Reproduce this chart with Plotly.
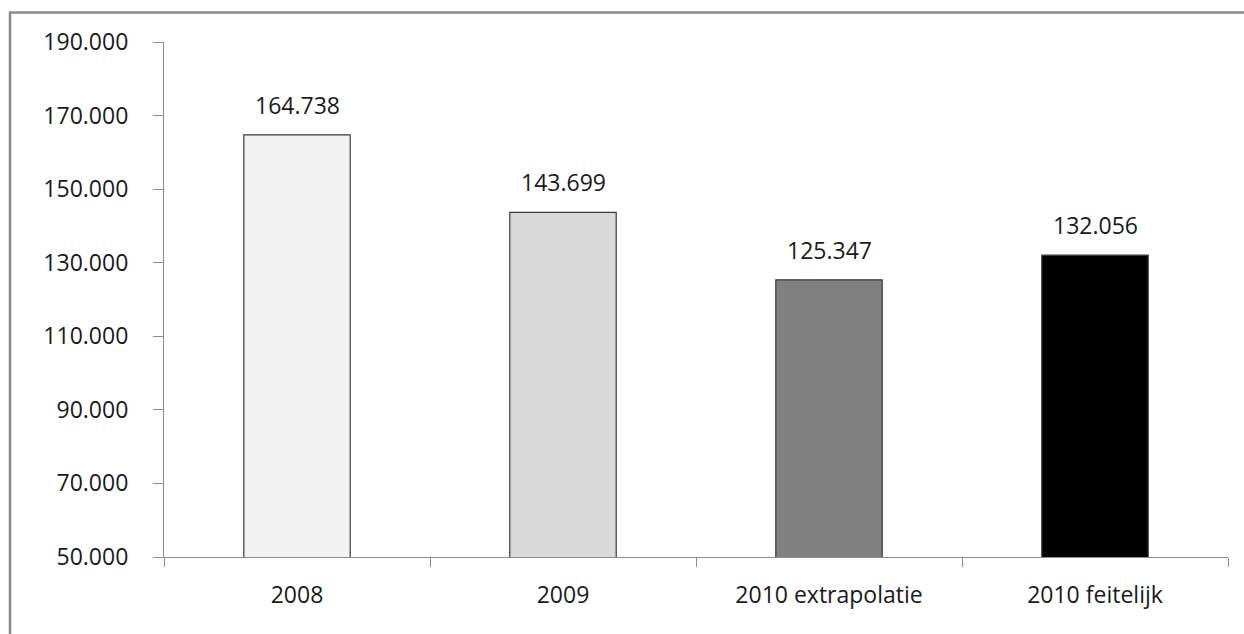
import plotly.graph_objects as go

categories = ["2008", "2009", "2010 extrapolatie", "2010 feitelijk"]
values = [164738, 143699, 125347, 132056]
bar_colors = ["#F2F2F2", "#D9D9D9", "#808080", "#000000"]
y_ticks = [50000, 70000, 90000, 110000, 130000, 150000, 170000, 190000]

W, H = 1244, 634
ml, mr, mt, mb = 164, 16, 42, 77
pw, ph = W - ml - mr, H - mt - mb

def px_x(x):
    return (x - ml) / pw

def px_y(y):
    return (H - mb - y) / ph

font = dict(family="Open Sans, Carlito, Calibri, sans-serif", size=23, color="#1a1a1a")

fig = go.Figure(go.Bar(
    x=categories, y=values,
    marker=dict(color=bar_colors, line=dict(color="#3a3a3a", width=1.2)),
    width=0.4, hoverinfo="x+y",
))

# category axes place annotations by category index
annotations = [
    dict(x=i, y=v, text=f"{v:,d}".replace(",", "."), showarrow=False,
         xref="x", yref="y", yanchor="bottom", yshift=12, font=font)
    for i, v in enumerate(values)
]

fig.update_layout(
    width=W, height=H,
    margin=dict(l=ml, r=mr, t=mt, b=mb, autoexpand=False),
    paper_bgcolor="white", plot_bgcolor="white",
    separators=",.",
    showlegend=False,
    font=font,
    annotations=annotations,
    shapes=[dict(type="path", xref="paper", yref="paper",
                 path=f"M {px_x(10)} {px_y(H + 5)} L {px_x(10)} {px_y(12.5)} L {px_x(W + 5)} {px_y(12.5)}",
                 line=dict(color="#8a8a8a", width=2.5))],
)
fig.update_xaxes(
    type="category", categoryorder="array", categoryarray=categories,
    range=[-0.5, len(categories) - 0.5],
    showline=True, linecolor="#8c8c8c", linewidth=1.2,
    ticks="outside", ticklen=9, tickcolor="#8c8c8c", tickson="boundaries",
    showgrid=False, tickfont=font, ticklabelstandoff=17, tickangle=0,
)
fig.update_yaxes(
    range=[50000, 190000], tickvals=y_ticks, tickformat=",d",
    showline=True, linecolor="#8c8c8c", linewidth=1.2,
    ticks="outside", ticklen=10, tickcolor="#8c8c8c",
    showgrid=False, zeroline=False, tickfont=font, ticklabelstandoff=20,
)
fig.write_html("out.html")
